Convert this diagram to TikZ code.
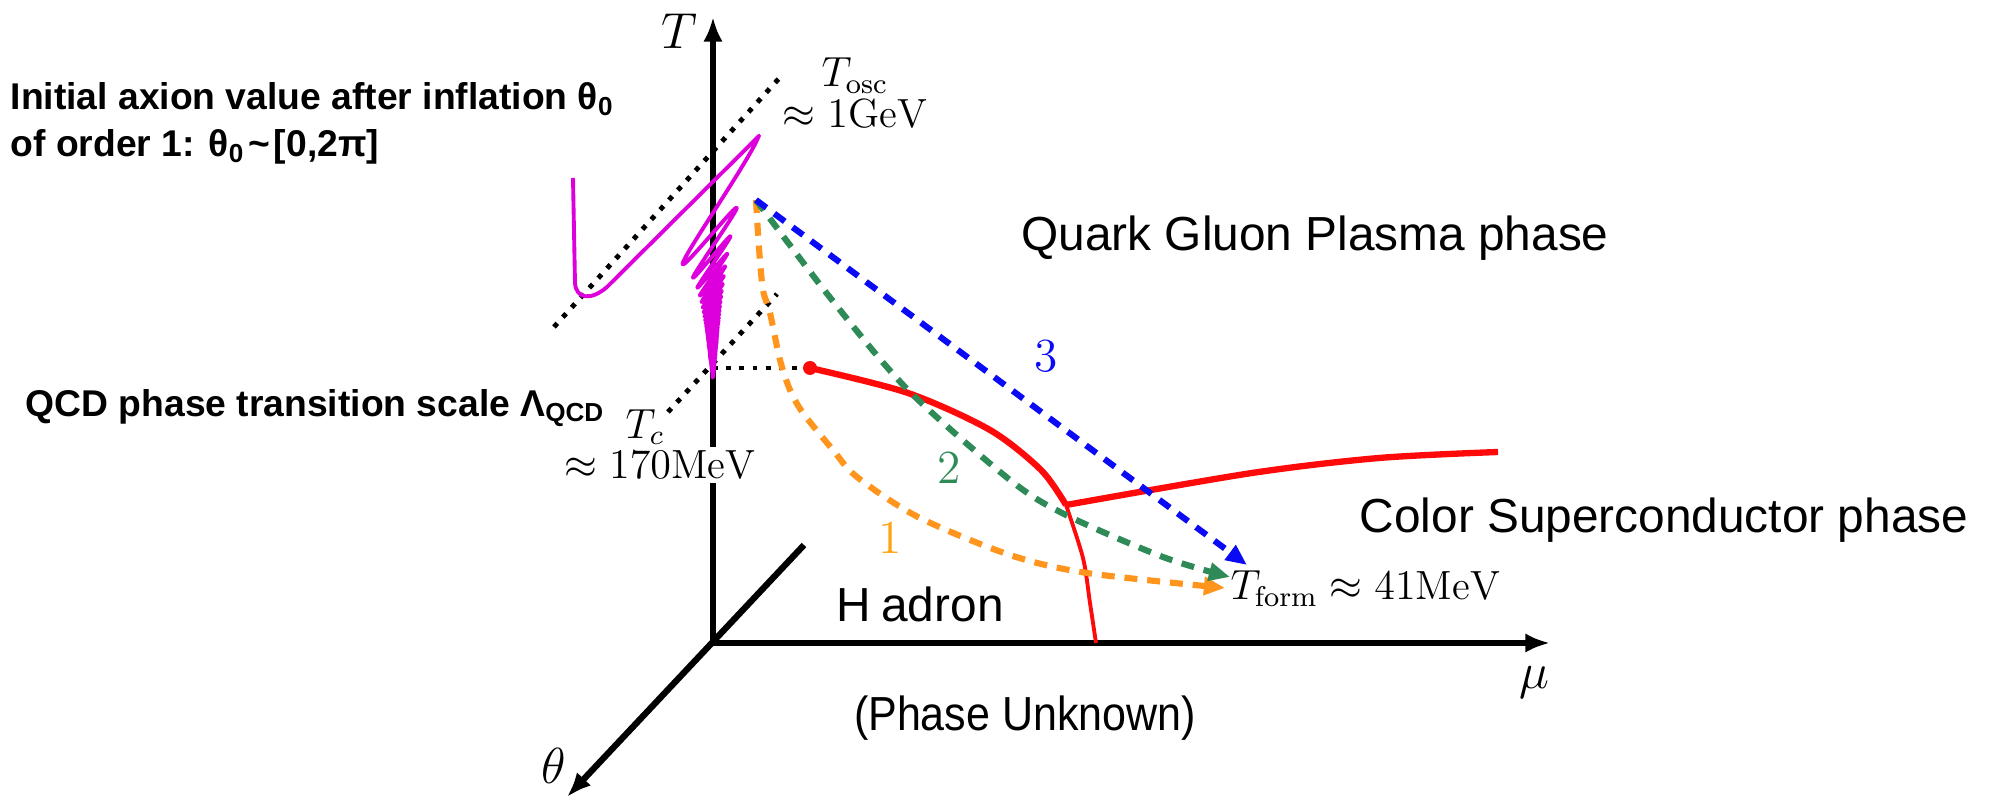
\documentclass[tikz,border=0pt]{standalone}
\usepackage{fontspec}
\usepackage{tikz}
\usetikzlibrary{arrows.meta}
\setsansfont{Liberation Sans}
\newfontfamily\narrowsans[FakeStretch=0.9]{Liberation Sans}
\definecolor{axion}{HTML}{DD00DD}
\definecolor{boundary}{HTML}{FF0A0A}
\definecolor{route1}{HTML}{FF951C}
\definecolor{route2}{HTML}{2E8B57}
\definecolor{route3}{HTML}{0A0AF5}
\definecolor{lab1}{HTML}{FFA20F}

\begin{document}
\begin{tikzpicture}[>=Latex,
  axisline/.style={line width=1.8pt, -{Latex[length=7pt,width=5.5pt]}},
  dotline/.style={line width=1.4pt, dash pattern=on 1.4pt off 2.35pt},
  route/.style={line width=1.75pt, dash pattern=on 3.7pt off 2.8pt, -{Triangle[length=6pt,width=5pt]}},
  phase/.style={font=\sffamily\fontsize{13.6}{16}\selectfont},
  note/.style={font=\sffamily\bfseries\fontsize{10.6}{13.3}\selectfont, align=left, anchor=west, inner sep=0},
  val/.style={font=\fontsize{11.6}{11.5}\selectfont, inner sep=1pt},
  axlab/.style={font=\fontsize{14.5}{16}\selectfont}]
  \def\axth#1{(0.767*exp(-0.6*ln(#1))*(1-(#1/104)^2)*cos(180*mod(#1,2)))}
  \def\axy#1{(4.46-0.39*ln(#1))}
  \useasboundingbox (-7.13,-1.57) rectangle (12.76,6.43);

  \coordinate (O) at (0,0);
  \coordinate (Ttop) at (0,6.26);
  \coordinate (mutop) at (8.37,0);
  \coordinate (thtop) at (-1.46,-1.54);
  \coordinate (thback) at (0.91,0.98);
  \coordinate (osc1) at (-1.59,3.16); \coordinate (osc2) at (0.70,5.69);
  \coordinate (tc1) at (-0.45,2.31); \coordinate (tc2) at (0.64,3.49);
  \coordinate (tcax) at (0,2.75);
  \coordinate (cp) at (0.97,2.75);
  \coordinate (jn) at (3.53,1.38);
  \coordinate (mucross) at (3.83,0);
  \coordinate (start) at (0.43,4.43);
  \coordinate (end1) at (5.12,0.55);
  \coordinate (end2) at (5.17,0.66);
  \coordinate (end3) at (5.34,0.78);

  \draw[axisline] (O) -- (Ttop);
  \draw[axisline] (O) -- (mutop);
  \draw[axisline] (thback) -- (thtop);
  \node[axlab] (Tlab) at (-0.34,6.12) {$T$};
  \node[axlab] (mulab) at (8.21,-0.40) {$\mu$};
  \node[axlab] (thlab) at (-1.59,-1.23) {$\theta$};

  \draw[dotline] (osc1) -- (osc2);
  \draw[dotline] (tc1) -- (tc2);
  \draw[dotline] (tcax) -- (cp);

  % axion field: frozen, then damped oscillation
  \draw[axion, line width=1.1pt, line join=round] (-1.40,4.65) -- (-1.38,3.60)
    .. controls (-1.37,3.44) and (-1.22,3.42) .. (-1.06,3.56) -- (0.46,5.07)
    -- plot[domain=1:104, samples=1500] ({-0.6*\axth{\x}},{\axy{\x}-0.8*\axth{\x}});

  \draw[boundary, line width=1.8pt] plot[smooth] coordinates {(cp) (1.95,2.50) (2.77,2.13) (3.28,1.73) (jn)};
  \draw[boundary, line width=1.1pt] plot[smooth] coordinates {(jn) (3.70,0.85) (3.77,0.40) (mucross)};
  \draw[boundary, line width=1.8pt] plot[smooth] coordinates {(jn) (5.39,1.70) (6.66,1.85) (7.85,1.91)};
  \fill[boundary] (cp) circle (0.07);

  \draw[route, route1] plot[smooth] coordinates {(start) (0.46,3.95) (0.50,3.53) (0.57,3.30) (0.67,2.83) (0.77,2.53) (0.90,2.30) (1.20,1.93) (1.44,1.66) (2.05,1.26) (2.97,0.88) (3.74,0.70) (end1)};
  \draw[route, route2] plot[smooth] coordinates {(start) (1.19,3.43) (1.95,2.53) (2.97,1.63) (3.53,1.28) (4.50,0.86) (end2)};
  \draw[route, route3] (start) -- (end3);
  \node[val, font=\fontsize{13.5}{15}\selectfont, lab1] (n1) at (1.77,1.05) {1};
  \node[val, font=\fontsize{13.5}{15}\selectfont, route2] (n2) at (2.36,1.75) {2};
  \node[val, font=\fontsize{13.5}{15}\selectfont, route3] (n3) at (3.33,2.87) {3};

  \node[val, align=center] (osc) at (1.42,5.50) {$T_{\mathrm{osc}}$\\$\approx 1\mathrm{GeV}$};
  \node[val] (tclab) at (-0.68,2.16) {$T_c$};
  \node[val, fill=white] (tcval) at (-0.53,1.78) {$\approx 170\mathrm{MeV}$};
  \node[val, anchor=base west, inner sep=0] (tform) at (5.17,0.43) {$T_{\mathrm{form}}\approx 41\mathrm{MeV}$};

  \node[phase] (qgp) at (6.02,4.05) {Quark Gluon Plasma phase};
  \node[phase] (csc) at (9.51,1.23) {Color Superconductor phase};
  \node[phase] (had) at (2.07,0.39) {H\kern3pt adron};
  \node[phase, font=\narrowsans\fontsize{13.6}{16}\selectfont] (unk) at (3.12,-0.75) {(Phase Unknown)};

  \node[note] (axnote) at (-7.03,5.195) {Initial axion value after inflation θ\textsubscript{0}\\of order 1: θ\textsubscript{0}\kern1pt\textasciitilde\kern1pt[0,2π]};
  \node[note] (qcdnote) at (-6.88,2.35) {QCD phase transition scale Λ\textsubscript{QCD}};
\end{tikzpicture}
\end{document}
